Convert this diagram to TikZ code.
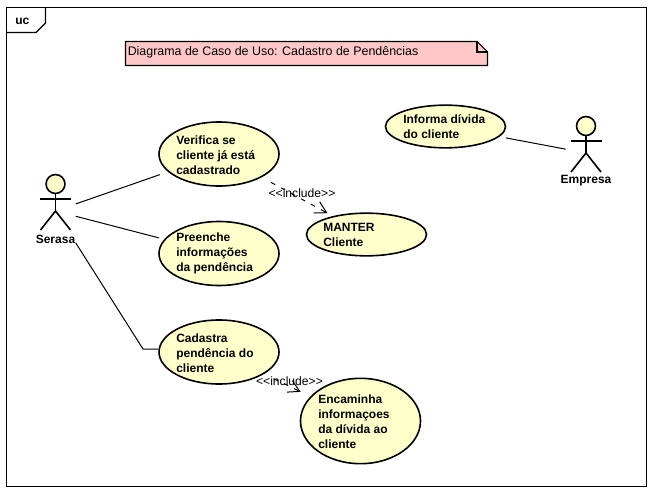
\documentclass[tikz,border=0pt]{standalone}
\usepackage{fontspec}
\setmainfont{Liberation Sans}
\usetikzlibrary{arrows.meta, positioning, calc, shapes}
\definecolor{myYellow}{HTML}{FFFFCC}
\definecolor{myPink}{HTML}{FFC8C8}

\begin{document}
\begin{tikzpicture}[
x=0.75pt, y=-0.75pt,
frameline/.style={draw=black, line width=0.8pt},
usecase/.style={ellipse, draw=black, fill=myYellow, line width=1.2pt, inner sep=0pt, minimum width=90pt},
usetext/.style={anchor=west, align=left, inner sep=0pt, font=\fontsize{9}{11.25}\selectfont\bfseries},
actorbox/.style={rectangle, inner sep=0pt, minimum width=30pt, minimum height=48pt},
actorline/.style={draw=black, line width=1.2pt},
assoc/.style={draw=black, line width=0.75pt},
incl/.style={draw=black, line width=0.75pt, dash pattern=on 3.5pt off 5pt, -{Straight Barb[length=8.5pt, width=9.5pt]}},
incltext/.style={inner sep=0pt, font=\fontsize{9.1}{11}\selectfont}
]
\useasboundingbox (0,0) rectangle (653,496);

% frame
\draw[frameline] (6.5,7.5) rectangle (646.5,486.5);
\draw[frameline] (6.5,32.5) -- (36,32.5) -- (45.5,23) -- (45.5,7.5);
\node[usetext] (frametag) at (15,21) {uc};

% note
\draw[frameline, fill=myPink] (125.5,41.5) -- (477,41.5) -- (487.5,52) -- (487.5,65.5) -- (125.5,65.5) -- cycle;
\draw[frameline] (477,41.5) -- (477,52) -- (487.5,52);
\node[anchor=west, inner sep=0pt, font=\fontsize{9.32}{11}\selectfont] (title) at (127.5,52) {Diagrama de Caso de Uso: Cadastro de Pendências};

% use cases
\node[usecase, minimum height=48pt] (verifica) at (219,154) {};
\node[usecase, minimum height=48pt] (preenche) at (219,253.5) {};
\node[usecase, minimum height=48pt] (cadastra) at (219,352) {};
\node[usecase, minimum height=64pt] (encaminha) at (360.5,421) {};
\node[usecase, minimum height=32pt] (manter) at (366.5,234.5) {};
\node[usecase, minimum height=32pt] (informa) at (445.5,126.5) {};

\node[usetext] (verificatext) at (176,155) {Verifica se\\cliente já está\\cadastrado};
\node[usetext] (preenchetext) at (176,253) {Preenche\\informações\\da pendência};
\node[usetext] (cadastratext) at (176,353) {Cadastra\\pendência do\\cliente};
\node[usetext] (encaminhatext) at (318,421.5) {Encaminha\\informaçoes\\da dívida ao\\cliente};
\node[usetext] (mantertext) at (323,235) {MANTER\\Cliente};
\node[usetext] (informatext) at (403,127) {Informa dívida\\do cliente};

% actors
\foreach \actorid/\actorx/\actory/\actorname in {serasa/55.5/211/Serasa, empresa/586/153/Empresa} {
  \node[actorbox] (\actorid) at (\actorx,\actory) {};
  \draw[actorline, fill=myYellow] (\actorx,\actory-27) circle (7.1pt);
  \draw[actorline] (\actorx,\actory-17.5) -- (\actorx,\actory);
  \draw[actorline] (\actorx-15.5,\actory-12) -- (\actorx+15.5,\actory-12);
  \draw[actorline] (\actorx-15,\actory+19) -- (\actorx,\actory) -- (\actorx+15,\actory+19);
  \node[usetext, anchor=center] (\actorid text) at (\actorx,\actory+28) {\actorname};
}

% connectors
\coordinate (bend) at (143,349);
\draw[assoc, shorten >=6.5pt] (serasa) -- (verifica);
\draw[assoc, shorten >=4pt] (serasa) -- (preenche);
\draw[assoc] (serasa) -- (bend) -- (cadastra.west |- bend);
\draw[assoc, shorten <=5pt] (informa) -- (empresa);
\draw[incl, shorten <=8pt, shorten >=4.5pt] (verifica) -- (manter);
\draw[incl, shorten <=8pt, shorten >=8pt] (cadastra) -- (encaminha);

\node[incltext] (incla) at (302,193) {<{}<include>{}>};
\node[incltext] (inclb) at (289.5,381) {<{}<include>{}>};
\end{tikzpicture}
\end{document}
